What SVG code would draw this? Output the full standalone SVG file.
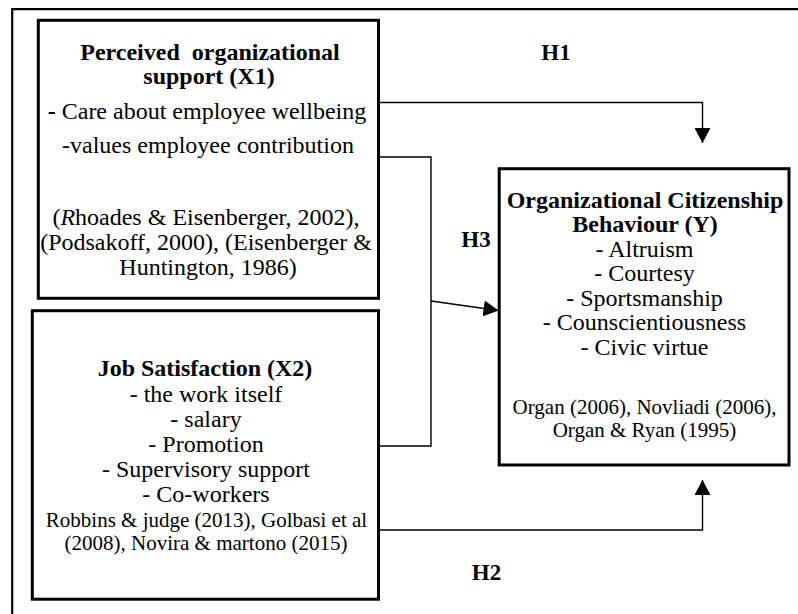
<svg xmlns="http://www.w3.org/2000/svg" width="798" height="614" viewBox="0 0 798 614">
<style>
text{font-family:"Liberation Serif","Times New Roman",serif;fill:#000;}
.t{font-size:24px;font-weight:bold;text-anchor:middle;}
.b{font-size:24px;text-anchor:middle;}
.c{font-size:21px;text-anchor:middle;}
.h{font-size:23px;font-weight:bold;text-anchor:middle;}
.box{fill:#fff;stroke:#000;stroke-width:3;}
.con{fill:none;stroke:#000;stroke-width:1.4;}
</style>
<defs>
<marker id="ah" viewBox="0 0 15 16" refX="15" refY="8" markerWidth="15" markerHeight="16" markerUnits="userSpaceOnUse" orient="auto">
<path d="M0,0 L15,8 L0,16 z" fill="#000"/>
</marker>
</defs>
<rect width="798" height="614" fill="#fff"/>
<path d="M798,9.2 H12.2 V614" fill="none" stroke="#000" stroke-width="2.2"/>
<g id="connectors">
<path class="con" d="M380,102.5 H702.5 V143" marker-end="url(#ah)"/>
<path class="con" d="M380,157 H431 V446 H380"/>
<path class="con" d="M431,301 L498.5,310.5" marker-end="url(#ah)"/>
<path class="con" d="M380,530 H702.5 V480" marker-end="url(#ah)"/>
<text class="h" x="556" y="60">H1</text>
<text class="h" x="476" y="247">H3</text>
<text class="h" x="486.5" y="580">H2</text>
</g>
<g id="pos">
<rect class="box" x="38.3" y="20.3" width="340.2" height="278"/>
<text class="t" x="210" y="59.5" xml:space="preserve">Perceived  organizational</text>
<text class="t" x="209" y="84">support (X1)</text>
<text class="b" x="207" y="119"><tspan font-weight="bold">-</tspan> Care about employee wellbeing</text>
<text class="b" x="208" y="153">-values employee contribution</text>
<text class="b" x="206" y="225">(<tspan font-style="italic">R</tspan>hoades &amp; Eisenberger, 2002),</text>
<text class="b" x="206" y="250">(Podsakoff, 2000), (Eisenberger &amp;</text>
<text class="b" x="208" y="275">Huntington, 1986)</text>
</g>
<g id="job">
<rect class="box" x="32.3" y="310.7" width="346.2" height="288.5"/>
<text class="t" x="205" y="376">Job Satisfaction (X2)</text>
<text class="b" x="206" y="401.5">- the work itself</text>
<text class="b" x="206" y="427">- salary</text>
<text class="b" x="206" y="451.5">- Promotion</text>
<text class="b" x="206" y="476.5">- Supervisory support</text>
<text class="b" x="206" y="501.5">- Co-workers</text>
<text class="c" x="206.5" y="526.5">Robbins &amp; judge (2013), Golbasi et al</text>
<text class="c" x="206" y="550">(2008), Novira &amp; martono (2015)</text>
</g>
<g id="ocb">
<rect class="box" x="499.2" y="168.7" width="289.8" height="296.3"/>
<text class="t" x="645" y="207.5">Organizational Citizenship</text>
<text class="t" x="645" y="231.5">Behaviour (Y)</text>
<text class="b" x="644.5" y="256.5">- Altruism</text>
<text class="b" x="644.5" y="281">- Courtesy</text>
<text class="b" x="644.5" y="305.5">- Sportsmanship</text>
<text class="b" x="644.5" y="330">- Counscientiousness</text>
<text class="b" x="644.5" y="355">- Civic virtue</text>
<text class="c" x="644.5" y="414">Organ (2006), Novliadi (2006),</text>
<text class="c" x="644.5" y="437">Organ &amp; Ryan (1995)</text>
</g>
</svg>
